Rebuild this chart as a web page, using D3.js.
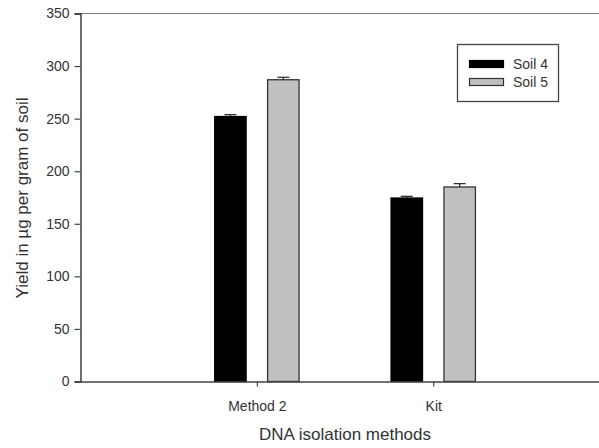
<!DOCTYPE html>
<html>
<head>
<meta charset="utf-8">
<script src="https://cdn.jsdelivr.net/npm/d3@7"></script>
<style>
  html, body { margin: 0; padding: 0; background: #fff; }
  svg { display: block; font-family: "Liberation Sans", Arial, sans-serif; }
</style>
</head>
<body>
<svg id="chart" width="599" height="448"></svg>
<script>
// DNA yield per isolation method, two soils
const methods = ["Method 2", "Kit"];
const seriesNames = ["Soil 4", "Soil 5"];
const soil4 = [252, 174.5];
const soil4Err = [1.8, 1.6];
const soil5 = [287, 185];
const soil5Err = [2.3, 3.2];
const yTicks = [0, 50, 100, 150, 200, 250, 300, 350];

const series = [
  { name: seriesNames[0], values: soil4, errs: soil4Err, fill: "#000000", stroke: "#000000" },
  { name: seriesNames[1], values: soil5, errs: soil5Err, fill: "#c0c0c0", stroke: "#333333" }
];

const svg = d3.select("#chart");
const plotLeft = 80.5, plotBottom = 381.5, plotTop = 13.5;

// Categories sit at 1 and 2 on a 0..3 axis (right edge runs past the page)
const x = d3.scaleLinear().domain([0, 3]).range([plotLeft, 609.6]);
const y = d3.scaleLinear().domain([0, 350]).range([plotBottom, plotTop]);

const barW = 0.184;   // bar width in category units
const gap = 0.116;    // space between the two bars of a group

// frame top line
svg.append("line")
  .attr("x1", plotLeft).attr("x2", x(3))
  .attr("y1", y(350)).attr("y2", y(350))
  .attr("stroke", "#7a7a7a").attr("stroke-width", 1.2);

// bars and upward error bars
series.forEach((s, si) => {
  const offset = si === 0 ? -(gap / 2 + barW) : gap / 2;
  const g = svg.append("g");
  methods.forEach((m, i) => {
    const x0 = x(i + 1 + offset), x1 = x(i + 1 + offset + barW);
    const v = s.values[i];
    g.append("rect")
      .attr("x", x0 + 0.5).attr("y", y(v))
      .attr("width", x1 - x0 - 1).attr("height", y(0) - y(v))
      .attr("fill", s.fill).attr("stroke", s.stroke).attr("stroke-width", 1.3);
    const cx = (x0 + x1) / 2;
    const ye = y(v + s.errs[i]);
    g.append("line").attr("x1", cx).attr("x2", cx).attr("y1", y(v)).attr("y2", ye)
      .attr("stroke", "#333").attr("stroke-width", 1.3);
    g.append("line").attr("x1", cx - 6).attr("x2", cx + 6).attr("y1", ye).attr("y2", ye)
      .attr("stroke", "#333").attr("stroke-width", 1.3);
  });
});

// y axis
const yAxis = svg.append("g")
  .attr("transform", `translate(${plotLeft},0)`)
  .call(d3.axisLeft(y).tickValues(yTicks).tickSize(6).tickPadding(5).tickFormat(d3.format("d")));
yAxis.select(".domain").attr("stroke", "#222").attr("stroke-width", 1.3);
yAxis.selectAll(".tick line").attr("stroke", "#444").attr("stroke-width", 1.2);
yAxis.selectAll(".tick text").attr("font-size", 14).attr("fill", "#333")
  .attr("font-family", "Liberation Sans, Arial, sans-serif");

// x axis
const xAxis = svg.append("g")
  .attr("transform", `translate(0,${plotBottom})`)
  .call(d3.axisBottom(x).tickValues([1, 2]).tickSize(5).tickSizeOuter(0).tickPadding(15)
    .tickFormat(d => methods[d - 1]));
xAxis.select(".domain").attr("stroke", "#444").attr("stroke-width", 1.3);
xAxis.selectAll(".tick line").attr("stroke", "#444").attr("stroke-width", 1.2);
xAxis.selectAll(".tick text").attr("font-size", 14).attr("fill", "#333")
  .attr("font-family", "Liberation Sans, Arial, sans-serif");

// axis titles
svg.append("text")
  .attr("x", x(1.5)).attr("y", 440)
  .attr("text-anchor", "middle").attr("font-size", 17).attr("fill", "#333")
  .text("DNA isolation methods");

svg.append("text")
  .attr("transform", `translate(28,${(94 + 302) / 2}) rotate(-90)`)
  .attr("text-anchor", "middle").attr("font-size", 17).attr("fill", "#333")
  .text("Yield in µg per gram of soil");

// legend
const legend = svg.append("g");
legend.append("rect")
  .attr("x", 457.5).attr("y", 44.5).attr("width", 101).attr("height", 57)
  .attr("fill", "#fff").attr("stroke", "#444").attr("stroke-width", 1.3);
series.forEach((s, i) => {
  const cy = 64 + i * 18;
  legend.append("rect")
    .attr("x", 469.5).attr("y", cy - 3.5).attr("width", 34).attr("height", 7)
    .attr("fill", s.fill).attr("stroke", s.stroke).attr("stroke-width", 1.2);
  legend.append("text")
    .attr("x", 513).attr("y", cy + 5).attr("font-size", 14).attr("fill", "#333")
    .text(s.name);
});
</script>
</body>
</html>
